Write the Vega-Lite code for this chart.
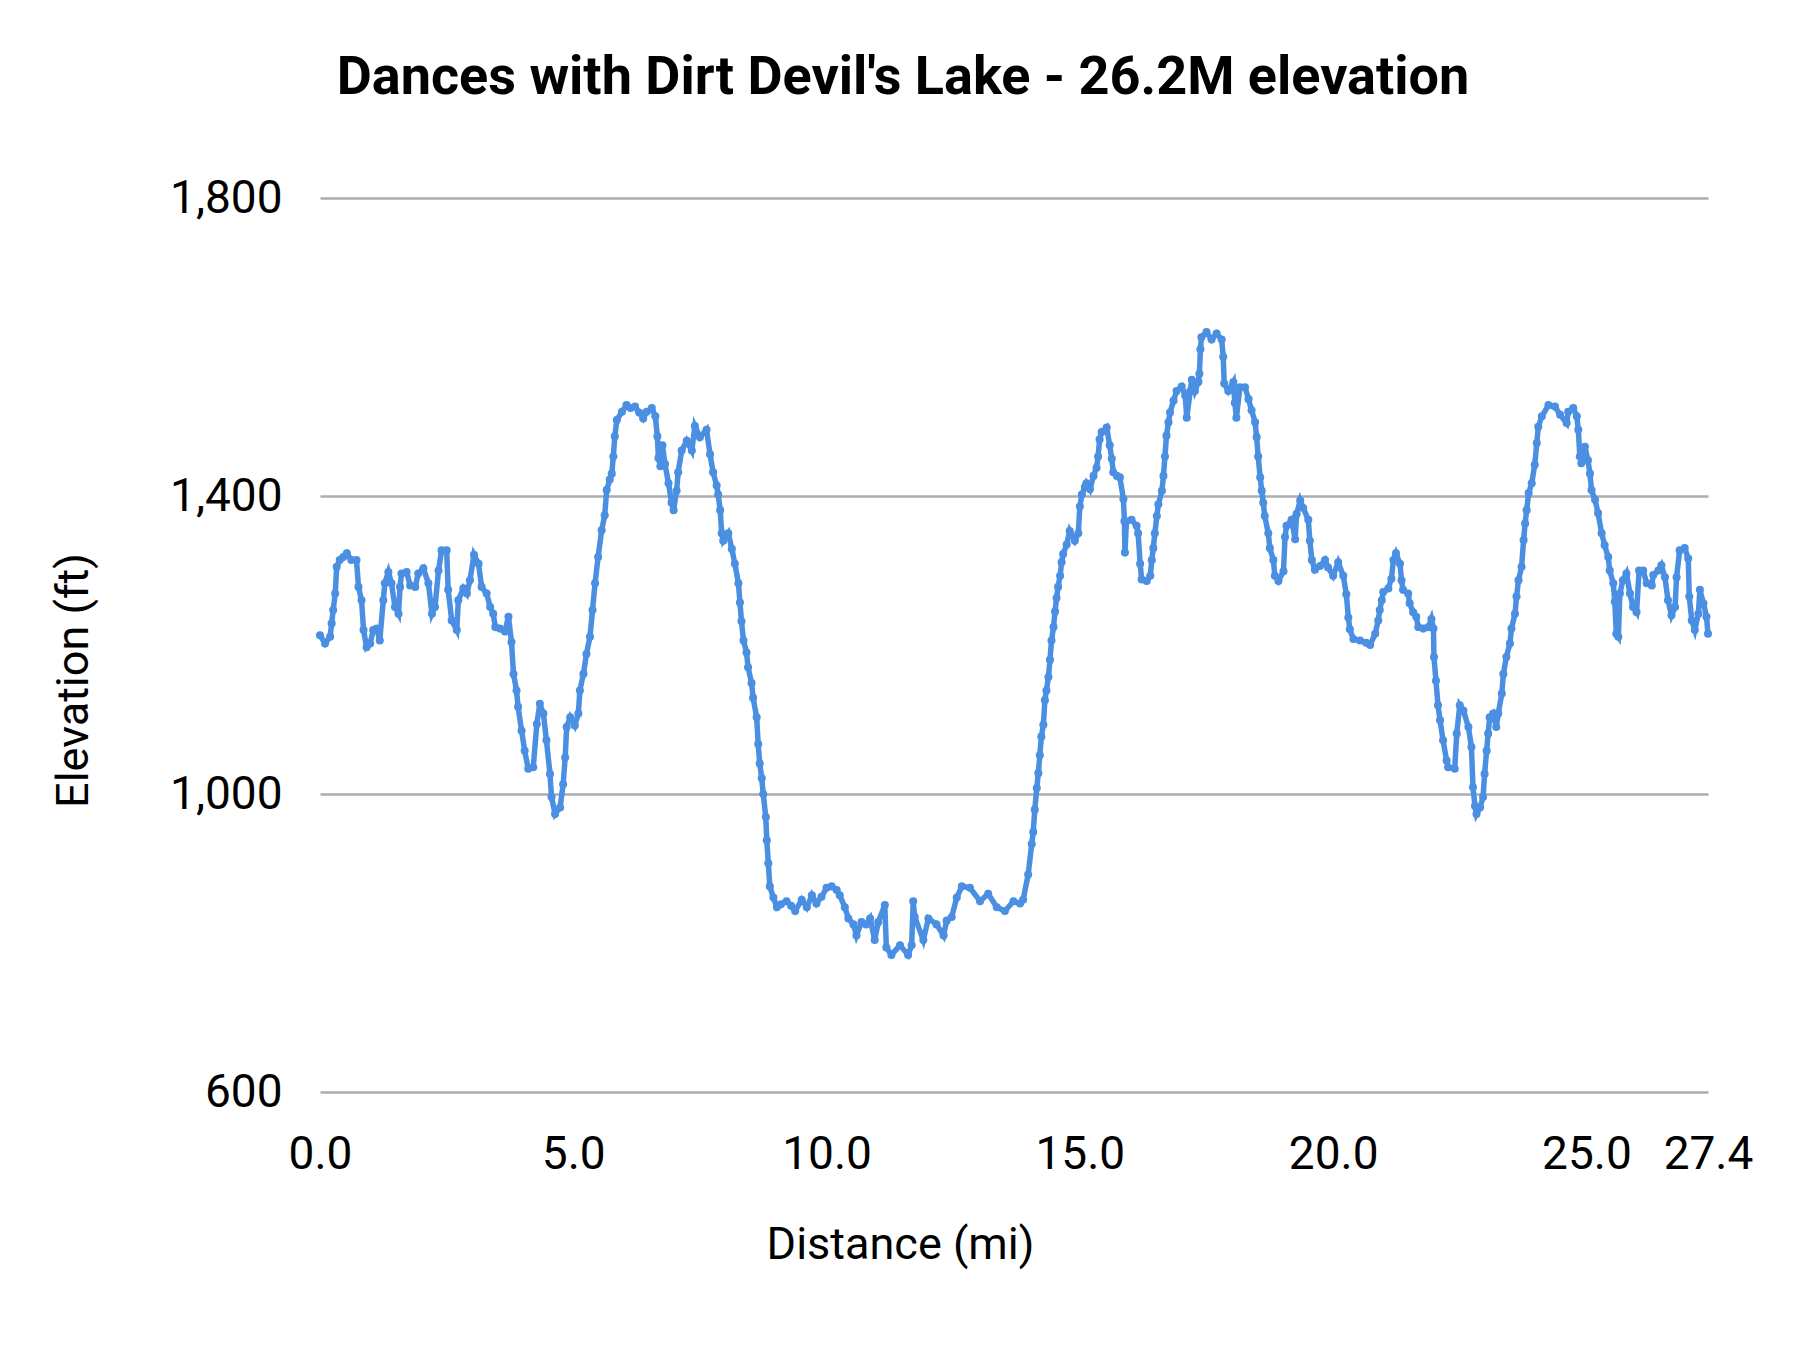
{
  "$schema": "https://vega.github.io/schema/vega-lite/v6.json",
  "description": "Dances with Dirt Devil's Lake - 26.2M elevation profile",
  "width": 1388,
  "height": 894,
  "autosize": {"type": "none"},
  "padding": {"left": 320, "top": 198, "right": 92, "bottom": 258},
  "background": "white",
  "title": {
    "text": "Dances with Dirt Devil's Lake - 26.2M elevation",
    "font": "Roboto",
    "fontSize": 54,
    "fontWeight": "bold",
    "color": "#000000",
    "anchor": "middle",
    "frame": "group",
    "baseline": "alphabetic",
    "offset": 27,
    "dx": -111
  },
  "data": {
    "values": [
      {"distance": 0.00, "elevation": 1213}, {"distance": 0.10, "elevation": 1202}, {"distance": 0.20, "elevation": 1211},
      {"distance": 0.23, "elevation": 1229}, {"distance": 0.26, "elevation": 1247}, {"distance": 0.30, "elevation": 1269},
      {"distance": 0.33, "elevation": 1305}, {"distance": 0.39, "elevation": 1314}, {"distance": 0.46, "elevation": 1318},
      {"distance": 0.53, "elevation": 1323}, {"distance": 0.62, "elevation": 1314}, {"distance": 0.72, "elevation": 1314},
      {"distance": 0.76, "elevation": 1278}, {"distance": 0.82, "elevation": 1260}, {"distance": 0.86, "elevation": 1220},
      {"distance": 0.92, "elevation": 1197}, {"distance": 0.99, "elevation": 1202}, {"distance": 1.05, "elevation": 1220},
      {"distance": 1.12, "elevation": 1222}, {"distance": 1.18, "elevation": 1206}, {"distance": 1.25, "elevation": 1260},
      {"distance": 1.28, "elevation": 1283}, {"distance": 1.35, "elevation": 1298}, {"distance": 1.41, "elevation": 1283},
      {"distance": 1.48, "elevation": 1251}, {"distance": 1.55, "elevation": 1242}, {"distance": 1.58, "elevation": 1278},
      {"distance": 1.61, "elevation": 1296}, {"distance": 1.71, "elevation": 1298}, {"distance": 1.78, "elevation": 1280},
      {"distance": 1.88, "elevation": 1278}, {"distance": 1.94, "elevation": 1296}, {"distance": 2.04, "elevation": 1303},
      {"distance": 2.14, "elevation": 1283}, {"distance": 2.21, "elevation": 1242}, {"distance": 2.27, "elevation": 1251},
      {"distance": 2.34, "elevation": 1300}, {"distance": 2.40, "elevation": 1327}, {"distance": 2.50, "elevation": 1327},
      {"distance": 2.53, "elevation": 1274}, {"distance": 2.60, "elevation": 1233}, {"distance": 2.70, "elevation": 1220},
      {"distance": 2.73, "elevation": 1260}, {"distance": 2.83, "elevation": 1276}, {"distance": 2.90, "elevation": 1269},
      {"distance": 2.96, "elevation": 1287}, {"distance": 3.04, "elevation": 1321}, {"distance": 3.13, "elevation": 1309},
      {"distance": 3.19, "elevation": 1278}, {"distance": 3.29, "elevation": 1269}, {"distance": 3.36, "elevation": 1251},
      {"distance": 3.42, "elevation": 1242}, {"distance": 3.46, "elevation": 1224}, {"distance": 3.55, "elevation": 1222},
      {"distance": 3.65, "elevation": 1218}, {"distance": 3.72, "elevation": 1238}, {"distance": 3.78, "elevation": 1204},
      {"distance": 3.82, "elevation": 1161}, {"distance": 3.88, "elevation": 1139}, {"distance": 3.91, "elevation": 1117},
      {"distance": 3.98, "elevation": 1085}, {"distance": 4.04, "elevation": 1058}, {"distance": 4.11, "elevation": 1034},
      {"distance": 4.21, "elevation": 1036}, {"distance": 4.28, "elevation": 1094}, {"distance": 4.34, "elevation": 1121},
      {"distance": 4.41, "elevation": 1108}, {"distance": 4.47, "elevation": 1072}, {"distance": 4.54, "elevation": 1027},
      {"distance": 4.57, "elevation": 996}, {"distance": 4.64, "elevation": 973}, {"distance": 4.74, "elevation": 982},
      {"distance": 4.80, "elevation": 1013}, {"distance": 4.84, "elevation": 1049}, {"distance": 4.87, "elevation": 1090},
      {"distance": 4.94, "elevation": 1103}, {"distance": 5.03, "elevation": 1092}, {"distance": 5.10, "elevation": 1108},
      {"distance": 5.13, "elevation": 1139}, {"distance": 5.20, "elevation": 1161}, {"distance": 5.26, "elevation": 1188},
      {"distance": 5.33, "elevation": 1211}, {"distance": 5.38, "elevation": 1247}, {"distance": 5.43, "elevation": 1283},
      {"distance": 5.49, "elevation": 1318}, {"distance": 5.56, "elevation": 1354}, {"distance": 5.62, "elevation": 1374},
      {"distance": 5.66, "elevation": 1408}, {"distance": 5.72, "elevation": 1422}, {"distance": 5.76, "elevation": 1430},
      {"distance": 5.79, "elevation": 1453}, {"distance": 5.82, "elevation": 1480}, {"distance": 5.86, "elevation": 1502},
      {"distance": 5.96, "elevation": 1513}, {"distance": 6.05, "elevation": 1522}, {"distance": 6.13, "elevation": 1518},
      {"distance": 6.22, "elevation": 1520}, {"distance": 6.30, "elevation": 1512}, {"distance": 6.38, "elevation": 1504},
      {"distance": 6.45, "elevation": 1513}, {"distance": 6.55, "elevation": 1518}, {"distance": 6.62, "elevation": 1507},
      {"distance": 6.66, "elevation": 1480}, {"distance": 6.68, "elevation": 1451}, {"distance": 6.72, "elevation": 1440},
      {"distance": 6.76, "elevation": 1468}, {"distance": 6.81, "elevation": 1443}, {"distance": 6.88, "elevation": 1417},
      {"distance": 6.94, "elevation": 1391}, {"distance": 6.98, "elevation": 1381}, {"distance": 7.04, "elevation": 1407},
      {"distance": 7.07, "elevation": 1432}, {"distance": 7.14, "elevation": 1461}, {"distance": 7.24, "elevation": 1474},
      {"distance": 7.34, "elevation": 1461}, {"distance": 7.40, "elevation": 1494}, {"distance": 7.50, "elevation": 1479},
      {"distance": 7.63, "elevation": 1489}, {"distance": 7.70, "elevation": 1456}, {"distance": 7.76, "elevation": 1432},
      {"distance": 7.83, "elevation": 1414}, {"distance": 7.86, "elevation": 1402}, {"distance": 7.90, "elevation": 1381},
      {"distance": 7.93, "elevation": 1350}, {"distance": 7.96, "elevation": 1340}, {"distance": 8.06, "elevation": 1350},
      {"distance": 8.13, "elevation": 1329}, {"distance": 8.19, "elevation": 1309}, {"distance": 8.26, "elevation": 1283},
      {"distance": 8.29, "elevation": 1257}, {"distance": 8.32, "elevation": 1232}, {"distance": 8.36, "elevation": 1206},
      {"distance": 8.42, "elevation": 1190}, {"distance": 8.45, "elevation": 1170}, {"distance": 8.52, "elevation": 1149},
      {"distance": 8.55, "elevation": 1129}, {"distance": 8.62, "elevation": 1103}, {"distance": 8.65, "elevation": 1067},
      {"distance": 8.68, "elevation": 1041}, {"distance": 8.72, "elevation": 1021}, {"distance": 8.75, "elevation": 1000},
      {"distance": 8.80, "elevation": 969}, {"distance": 8.82, "elevation": 938}, {"distance": 8.85, "elevation": 907},
      {"distance": 8.88, "elevation": 876}, {"distance": 8.95, "elevation": 861}, {"distance": 9.02, "elevation": 848},
      {"distance": 9.10, "elevation": 852}, {"distance": 9.21, "elevation": 856}, {"distance": 9.30, "elevation": 850},
      {"distance": 9.38, "elevation": 843}, {"distance": 9.51, "elevation": 858}, {"distance": 9.61, "elevation": 848},
      {"distance": 9.71, "elevation": 864}, {"distance": 9.80, "elevation": 853}, {"distance": 9.90, "elevation": 862},
      {"distance": 10.00, "elevation": 874}, {"distance": 10.10, "elevation": 876}, {"distance": 10.20, "elevation": 871},
      {"distance": 10.26, "elevation": 864}, {"distance": 10.36, "elevation": 848}, {"distance": 10.43, "elevation": 833},
      {"distance": 10.53, "elevation": 825}, {"distance": 10.59, "elevation": 810}, {"distance": 10.69, "elevation": 828},
      {"distance": 10.78, "elevation": 825}, {"distance": 10.86, "elevation": 833}, {"distance": 10.95, "elevation": 804},
      {"distance": 11.02, "elevation": 828}, {"distance": 11.15, "elevation": 851}, {"distance": 11.18, "elevation": 794},
      {"distance": 11.28, "elevation": 784}, {"distance": 11.45, "elevation": 797}, {"distance": 11.61, "elevation": 784},
      {"distance": 11.68, "elevation": 797}, {"distance": 11.71, "elevation": 856}, {"distance": 11.74, "elevation": 835},
      {"distance": 11.91, "elevation": 804}, {"distance": 12.01, "elevation": 833}, {"distance": 12.17, "elevation": 825},
      {"distance": 12.31, "elevation": 810}, {"distance": 12.37, "elevation": 830}, {"distance": 12.47, "elevation": 835},
      {"distance": 12.57, "elevation": 861}, {"distance": 12.67, "elevation": 876}, {"distance": 12.83, "elevation": 874},
      {"distance": 13.03, "elevation": 856}, {"distance": 13.19, "elevation": 866}, {"distance": 13.36, "elevation": 848},
      {"distance": 13.52, "elevation": 843}, {"distance": 13.69, "elevation": 856}, {"distance": 13.82, "elevation": 853},
      {"distance": 13.88, "elevation": 858}, {"distance": 13.98, "elevation": 892}, {"distance": 14.05, "elevation": 933},
      {"distance": 14.08, "elevation": 949}, {"distance": 14.11, "elevation": 979}, {"distance": 14.15, "elevation": 1008},
      {"distance": 14.18, "elevation": 1028}, {"distance": 14.21, "elevation": 1052}, {"distance": 14.24, "elevation": 1077},
      {"distance": 14.28, "elevation": 1093}, {"distance": 14.31, "elevation": 1126}, {"distance": 14.34, "elevation": 1139},
      {"distance": 14.38, "elevation": 1157}, {"distance": 14.41, "elevation": 1180}, {"distance": 14.44, "elevation": 1206},
      {"distance": 14.48, "elevation": 1224}, {"distance": 14.51, "elevation": 1245}, {"distance": 14.54, "elevation": 1263},
      {"distance": 14.57, "elevation": 1278}, {"distance": 14.61, "elevation": 1293}, {"distance": 14.64, "elevation": 1311},
      {"distance": 14.67, "elevation": 1322}, {"distance": 14.74, "elevation": 1335}, {"distance": 14.80, "elevation": 1353},
      {"distance": 14.90, "elevation": 1340}, {"distance": 14.97, "elevation": 1350}, {"distance": 15.00, "elevation": 1386},
      {"distance": 15.04, "elevation": 1402}, {"distance": 15.10, "elevation": 1412}, {"distance": 15.13, "elevation": 1417},
      {"distance": 15.20, "elevation": 1409}, {"distance": 15.27, "elevation": 1427}, {"distance": 15.33, "elevation": 1438},
      {"distance": 15.36, "elevation": 1453}, {"distance": 15.39, "elevation": 1476}, {"distance": 15.43, "elevation": 1486},
      {"distance": 15.53, "elevation": 1492}, {"distance": 15.59, "elevation": 1468}, {"distance": 15.63, "elevation": 1450},
      {"distance": 15.66, "elevation": 1432}, {"distance": 15.73, "elevation": 1427}, {"distance": 15.79, "elevation": 1425},
      {"distance": 15.86, "elevation": 1396}, {"distance": 15.88, "elevation": 1366}, {"distance": 15.89, "elevation": 1324},
      {"distance": 15.92, "elevation": 1366}, {"distance": 16.02, "elevation": 1368}, {"distance": 16.12, "elevation": 1360},
      {"distance": 16.15, "elevation": 1350}, {"distance": 16.19, "elevation": 1309}, {"distance": 16.22, "elevation": 1288},
      {"distance": 16.32, "elevation": 1286}, {"distance": 16.39, "elevation": 1293}, {"distance": 16.42, "elevation": 1314},
      {"distance": 16.45, "elevation": 1330}, {"distance": 16.48, "elevation": 1350}, {"distance": 16.52, "elevation": 1373},
      {"distance": 16.55, "elevation": 1389}, {"distance": 16.62, "elevation": 1407}, {"distance": 16.65, "elevation": 1427},
      {"distance": 16.68, "elevation": 1453}, {"distance": 16.71, "elevation": 1481}, {"distance": 16.75, "elevation": 1499},
      {"distance": 16.78, "elevation": 1512}, {"distance": 16.85, "elevation": 1528}, {"distance": 16.91, "elevation": 1541},
      {"distance": 17.01, "elevation": 1547}, {"distance": 17.08, "elevation": 1535}, {"distance": 17.11, "elevation": 1505},
      {"distance": 17.18, "elevation": 1541}, {"distance": 17.21, "elevation": 1556}, {"distance": 17.27, "elevation": 1541},
      {"distance": 17.34, "elevation": 1553}, {"distance": 17.36, "elevation": 1564}, {"distance": 17.38, "elevation": 1597},
      {"distance": 17.40, "elevation": 1613}, {"distance": 17.50, "elevation": 1620}, {"distance": 17.60, "elevation": 1610},
      {"distance": 17.70, "elevation": 1618}, {"distance": 17.80, "elevation": 1610}, {"distance": 17.83, "elevation": 1587},
      {"distance": 17.85, "elevation": 1551}, {"distance": 17.93, "elevation": 1541}, {"distance": 18.03, "elevation": 1553},
      {"distance": 18.06, "elevation": 1525}, {"distance": 18.09, "elevation": 1505}, {"distance": 18.16, "elevation": 1546},
      {"distance": 18.26, "elevation": 1546}, {"distance": 18.33, "elevation": 1530}, {"distance": 18.39, "elevation": 1515},
      {"distance": 18.46, "elevation": 1499}, {"distance": 18.49, "elevation": 1479}, {"distance": 18.52, "elevation": 1453},
      {"distance": 18.56, "elevation": 1425}, {"distance": 18.59, "elevation": 1407}, {"distance": 18.62, "elevation": 1391},
      {"distance": 18.65, "elevation": 1373}, {"distance": 18.72, "elevation": 1350}, {"distance": 18.75, "elevation": 1330},
      {"distance": 18.82, "elevation": 1314}, {"distance": 18.85, "elevation": 1293}, {"distance": 18.92, "elevation": 1286},
      {"distance": 19.02, "elevation": 1299}, {"distance": 19.05, "elevation": 1345}, {"distance": 19.08, "elevation": 1360},
      {"distance": 19.18, "elevation": 1368}, {"distance": 19.25, "elevation": 1342}, {"distance": 19.28, "elevation": 1376},
      {"distance": 19.35, "elevation": 1394}, {"distance": 19.41, "elevation": 1384}, {"distance": 19.51, "elevation": 1368},
      {"distance": 19.54, "elevation": 1340}, {"distance": 19.58, "elevation": 1314}, {"distance": 19.64, "elevation": 1301},
      {"distance": 19.74, "elevation": 1306}, {"distance": 19.84, "elevation": 1314}, {"distance": 19.90, "elevation": 1304},
      {"distance": 20.00, "elevation": 1293}, {"distance": 20.10, "elevation": 1311}, {"distance": 20.20, "elevation": 1293},
      {"distance": 20.26, "elevation": 1268}, {"distance": 20.30, "elevation": 1237}, {"distance": 20.33, "elevation": 1221},
      {"distance": 20.40, "elevation": 1208}, {"distance": 20.53, "elevation": 1206}, {"distance": 20.65, "elevation": 1203},
      {"distance": 20.73, "elevation": 1200}, {"distance": 20.83, "elevation": 1215}, {"distance": 20.89, "elevation": 1233},
      {"distance": 20.92, "elevation": 1247}, {"distance": 20.96, "elevation": 1260}, {"distance": 20.99, "elevation": 1271},
      {"distance": 21.09, "elevation": 1276}, {"distance": 21.15, "elevation": 1289}, {"distance": 21.19, "elevation": 1314},
      {"distance": 21.24, "elevation": 1323}, {"distance": 21.32, "elevation": 1309}, {"distance": 21.35, "elevation": 1287},
      {"distance": 21.38, "elevation": 1274}, {"distance": 21.48, "elevation": 1269}, {"distance": 21.51, "elevation": 1256},
      {"distance": 21.58, "elevation": 1244}, {"distance": 21.64, "elevation": 1238}, {"distance": 21.68, "elevation": 1224},
      {"distance": 21.78, "elevation": 1222}, {"distance": 21.88, "elevation": 1224}, {"distance": 21.94, "elevation": 1235},
      {"distance": 21.98, "elevation": 1222}, {"distance": 21.99, "elevation": 1184}, {"distance": 22.03, "elevation": 1152},
      {"distance": 22.07, "elevation": 1119}, {"distance": 22.11, "elevation": 1099}, {"distance": 22.17, "elevation": 1072},
      {"distance": 22.24, "elevation": 1045}, {"distance": 22.27, "elevation": 1036}, {"distance": 22.40, "elevation": 1034},
      {"distance": 22.44, "elevation": 1081}, {"distance": 22.50, "elevation": 1119}, {"distance": 22.57, "elevation": 1112},
      {"distance": 22.67, "elevation": 1090}, {"distance": 22.73, "elevation": 1063}, {"distance": 22.76, "elevation": 1009},
      {"distance": 22.80, "elevation": 984}, {"distance": 22.83, "elevation": 973}, {"distance": 22.90, "elevation": 982},
      {"distance": 22.96, "elevation": 996}, {"distance": 22.99, "elevation": 1027}, {"distance": 23.03, "elevation": 1058},
      {"distance": 23.06, "elevation": 1081}, {"distance": 23.09, "elevation": 1103}, {"distance": 23.16, "elevation": 1108},
      {"distance": 23.22, "elevation": 1090}, {"distance": 23.26, "elevation": 1108}, {"distance": 23.33, "elevation": 1135},
      {"distance": 23.36, "elevation": 1161}, {"distance": 23.42, "elevation": 1184}, {"distance": 23.49, "elevation": 1202},
      {"distance": 23.52, "elevation": 1222}, {"distance": 23.59, "elevation": 1242}, {"distance": 23.62, "elevation": 1265},
      {"distance": 23.66, "elevation": 1287}, {"distance": 23.72, "elevation": 1305}, {"distance": 23.76, "elevation": 1341},
      {"distance": 23.79, "elevation": 1363}, {"distance": 23.82, "elevation": 1381}, {"distance": 23.86, "elevation": 1404},
      {"distance": 23.92, "elevation": 1417}, {"distance": 23.98, "elevation": 1442}, {"distance": 24.02, "elevation": 1471},
      {"distance": 24.05, "elevation": 1493}, {"distance": 24.12, "elevation": 1507}, {"distance": 24.25, "elevation": 1522},
      {"distance": 24.38, "elevation": 1520}, {"distance": 24.48, "elevation": 1509}, {"distance": 24.61, "elevation": 1498},
      {"distance": 24.64, "elevation": 1513}, {"distance": 24.74, "elevation": 1518}, {"distance": 24.81, "elevation": 1507},
      {"distance": 24.84, "elevation": 1489}, {"distance": 24.87, "elevation": 1453}, {"distance": 24.90, "elevation": 1444},
      {"distance": 24.97, "elevation": 1466}, {"distance": 25.03, "elevation": 1448}, {"distance": 25.07, "elevation": 1430},
      {"distance": 25.10, "elevation": 1408}, {"distance": 25.17, "elevation": 1395}, {"distance": 25.23, "elevation": 1377},
      {"distance": 25.30, "elevation": 1350}, {"distance": 25.36, "elevation": 1334}, {"distance": 25.43, "elevation": 1318},
      {"distance": 25.46, "elevation": 1300}, {"distance": 25.53, "elevation": 1283}, {"distance": 25.56, "elevation": 1258},
      {"distance": 25.59, "elevation": 1215}, {"distance": 25.63, "elevation": 1211}, {"distance": 25.66, "elevation": 1269},
      {"distance": 25.72, "elevation": 1287}, {"distance": 25.79, "elevation": 1296}, {"distance": 25.86, "elevation": 1269},
      {"distance": 25.92, "elevation": 1251}, {"distance": 25.99, "elevation": 1244}, {"distance": 26.04, "elevation": 1300},
      {"distance": 26.12, "elevation": 1300}, {"distance": 26.19, "elevation": 1283}, {"distance": 26.29, "elevation": 1280},
      {"distance": 26.32, "elevation": 1294}, {"distance": 26.42, "elevation": 1300}, {"distance": 26.48, "elevation": 1307},
      {"distance": 26.55, "elevation": 1291}, {"distance": 26.61, "elevation": 1260}, {"distance": 26.68, "elevation": 1240},
      {"distance": 26.75, "elevation": 1251}, {"distance": 26.78, "elevation": 1291}, {"distance": 26.84, "elevation": 1327},
      {"distance": 26.94, "elevation": 1330}, {"distance": 27.01, "elevation": 1316}, {"distance": 27.03, "elevation": 1265},
      {"distance": 27.08, "elevation": 1233}, {"distance": 27.14, "elevation": 1220}, {"distance": 27.21, "elevation": 1242},
      {"distance": 27.24, "elevation": 1274}, {"distance": 27.31, "elevation": 1256}, {"distance": 27.37, "elevation": 1238},
      {"distance": 27.40, "elevation": 1215}
    ]
  },
  "mark": {
    "type": "line",
    "color": "#4a8fe2",
    "strokeWidth": 5.5,
    "point": {"filled": true, "size": 65, "color": "#4a8fe2"}
  },
  "encoding": {
    "x": {
      "field": "distance",
      "type": "quantitative",
      "title": "Distance (mi)",
      "scale": {"domain": [0, 27.4], "nice": false, "zero": false},
      "axis": {
        "values": [0, 5, 10, 15, 20, 25, 27.4],
        "format": ".1f",
        "grid": false,
        "domain": false,
        "ticks": false,
        "labelPadding": 40,
        "labelFlush": false,
        "labelOverlap": false,
        "titleX": 580,
        "titleY": 166,
        "titleBaseline": "alphabetic",
        "titleAlign": "center"
      }
    },
    "y": {
      "field": "elevation",
      "type": "quantitative",
      "title": "Elevation (ft)",
      "scale": {"domain": [600, 1800], "nice": false, "zero": false},
      "axis": {
        "values": [600, 1000, 1400, 1800],
        "format": ",.0f",
        "grid": true,
        "gridColor": "#adadad",
        "gridWidth": 2.5,
        "domain": false,
        "ticks": false,
        "labelPadding": 38,
        "labelFlush": false,
        "labelOverlap": false,
        "titleX": -247,
        "titleY": 482,
        "titleAngle": -90,
        "titleBaseline": "middle",
        "titleAlign": "center"
      }
    }
  },
  "config": {
    "view": {"stroke": null},
    "axis": {
      "labelFont": "Roboto",
      "labelFontSize": 46,
      "labelColor": "#000000",
      "titleFont": "Roboto",
      "titleFontSize": 45,
      "titleFontWeight": "normal",
      "titleColor": "#000000"
    }
  }
}
